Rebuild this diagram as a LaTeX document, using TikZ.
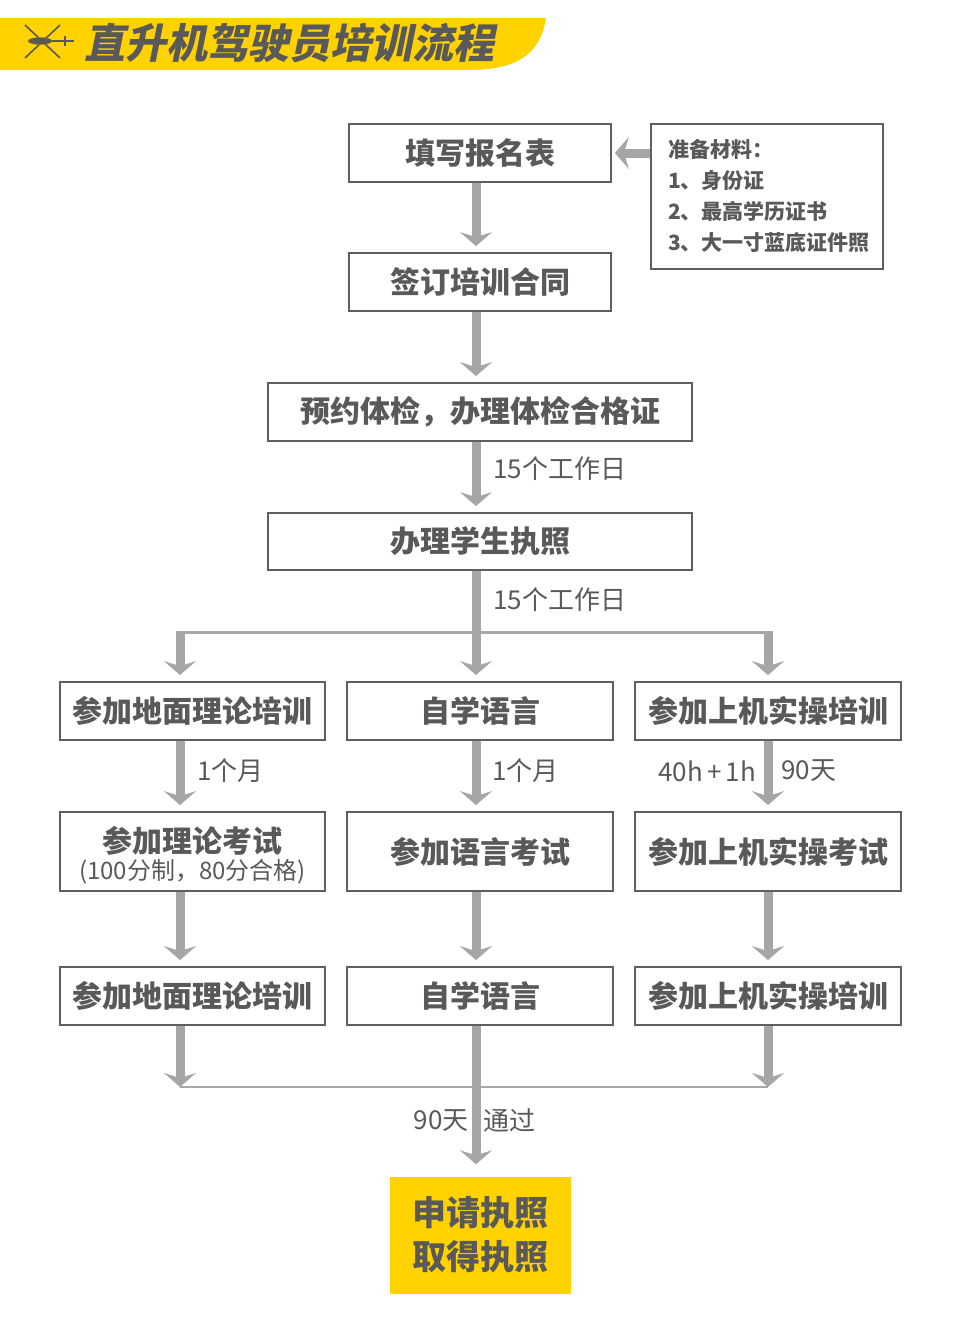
\documentclass[tikz,border=0pt]{standalone}
\usepackage{fontspec}
\setmainfont{Noto Sans CJK SC}
\newfontfamily\titlefont{Noto Sans CJK SC}[FakeSlant=0.2]
\usetikzlibrary{arrows.meta}
\definecolor{hyellow}{HTML}{FFD200}
\definecolor{txtgray}{HTML}{595959}
\definecolor{boxgray}{HTML}{5F5F5F}
\definecolor{arrgray}{HTML}{A6A6A6}
\tikzset{
  stepbox/.style={draw=boxgray, line width=1.8pt, text=txtgray, inner sep=0pt, align=center,
    font=\fontsize{30}{36}\selectfont\bfseries},
  arr/.style={draw=arrgray, line width=9pt, -{Stealth[width=32pt,length=14pt,inset=5pt]}, shorten >=6pt},
  lbl/.style={text=txtgray, inner sep=0pt, font=\fontsize{26}{30}\selectfont},
}
\begin{document}
\begin{tikzpicture}[x=1pt,y=-1pt]
\useasboundingbox (0,0) rectangle (960,1341);
% banner
\fill[hyellow] (0,18) -- (546,18) .. controls (540,56) and (515,70) .. (468,70) -- (0,70) -- cycle;
\draw[txtgray, line width=1.6pt] (25,25) -- (60,58);
\draw[txtgray, line width=1.6pt] (60,25) -- (25,58);
\draw[txtgray, line width=1.4pt] (50,41) -- (74,41);
\draw[txtgray, line width=1.4pt] (65,36) -- (65,46);
\fill[txtgray, draw=hyellow!60!black] (40,41) ellipse (12pt and 3.5pt);
\node[anchor=west, text=txtgray, inner sep=0pt, font=\titlefont\bfseries\fontsize{41}{41}\selectfont] (title) at (84,43) {直升机驾驶员培训流程};

% columns
\coordinate (colL) at (180,0);
\coordinate (colM) at (476,0);
\coordinate (colR) at (768,0);

% main steps
\node[stepbox, minimum width=262pt, minimum height=58pt] (b1) at (480,153) {填写报名表};
\node[draw=boxgray, line width=1.8pt, text=txtgray, inner xsep=17pt, inner ysep=0pt, text width=198pt,
  minimum height=145pt, align=left, font=\fontsize{21}{31}\selectfont\bfseries] (mat) at (767,196.5)
  {准备材料：\\1、身份证\\2、最高学历证书\\3、大一寸蓝底证件照};
\node[stepbox, minimum width=262pt, minimum height=58pt] (b2) at (480,282) {签订培训合同};
\node[stepbox, minimum width=424pt, minimum height=58pt] (b3) at (480,412) {预约体检，办理体检合格证};
\node[stepbox, minimum width=424pt, minimum height=57pt] (b4) at (480,541.5) {办理学生执照};

\draw[arr, shorten >=3pt] (mat.west |- b1) -- (b1.east);
\draw[arr] (b1.south -| colM) -- (b2.north -| colM);
\draw[arr] (b2.south -| colM) -- (b3.north -| colM);
\draw[arr] (b3.south -| colM) -- (b4.north -| colM);
\node[lbl, anchor=west] (d1) at (493,469) {15个工作日};
\node[lbl, anchor=west] (d2) at (493,600) {15个工作日};

% three branches
\node[stepbox, minimum width=265pt, minimum height=58pt] (l1) at (192.5,711) {参加地面理论培训};
\node[stepbox, minimum width=266pt, minimum height=58pt] (m1) at (480,711) {自学语言};
\node[stepbox, minimum width=266pt, minimum height=58pt] (r1) at (768,711) {参加上机实操培训};

\coordinate (barL) at (180,632);
\coordinate (barR) at (768,632);
\draw[arrgray, line width=3pt] ([xshift=-4.5pt]barL) -- ([xshift=4.5pt]barR);
\draw[arr] ([yshift=-1.5pt]barL) -- (l1.north -| colL);
\draw[arr] (b4.south -| colM) -- (m1.north -| colM);
\draw[arr] ([yshift=-1.5pt]barR) -- (r1.north -| colR);

\node[stepbox, minimum width=265pt, minimum height=79pt] (l2) at (192.5,851.5)
  {\rule{0pt}{33pt}参加理论考试\\[-9pt]{\fontsize{24}{27}\selectfont\mdseries (100分制，80分合格)}};
\node[stepbox, minimum width=266pt, minimum height=79pt] (m2) at (480,851.5) {参加语言考试};
\node[stepbox, minimum width=266pt, minimum height=79pt] (r2) at (768,851.5) {参加上机实操考试};

\draw[arr] (l1.south -| colL) -- (l2.north -| colL);
\draw[arr] (m1.south -| colM) -- (m2.north -| colM);
\draw[arr] (r1.south -| colR) -- (r2.north -| colR);
\node[lbl, anchor=west] (t1) at (197,771) {1个月};
\node[lbl, anchor=west] (t2) at (492,771) {1个月};
\node[lbl, anchor=east] (t3) at (756,771) {40h\kern4pt+\kern4pt1h};
\node[lbl, anchor=west] (t4) at (781,771) {90天};

\node[stepbox, minimum width=265pt, minimum height=58pt] (l3) at (192.5,996) {参加地面理论培训};
\node[stepbox, minimum width=266pt, minimum height=58pt] (m3) at (480,996) {自学语言};
\node[stepbox, minimum width=266pt, minimum height=58pt] (r3) at (768,996) {参加上机实操培训};

\draw[arr] (l2.south -| colL) -- (l3.north -| colL);
\draw[arr] (m2.south -| colM) -- (m3.north -| colM);
\draw[arr] (r2.south -| colR) -- (r3.north -| colR);

% join and licence
\node[fill=hyellow, inner sep=0pt, minimum width=181pt, minimum height=117pt, align=center, text=txtgray,
  font=\fontsize{34}{44}\selectfont\bfseries] (fin) at (480.5,1235) {申请执照\\取得执照};

\coordinate (joinL) at (180,1087);
\coordinate (joinR) at (768,1087);
\draw[arrgray, line width=2.5pt] (joinL) -- (joinR);
\draw[arr, shorten >=0pt] (l3.south -| colL) -- (joinL);
\draw[arr, shorten >=0pt] (r3.south -| colR) -- (joinR);
\draw[arr, shorten >=12pt] (m3.south -| colM) -- (fin.north -| colM);
\node[lbl, anchor=east] (p1) at (469,1121) {90天};
\node[lbl, anchor=west] (p2) at (483,1121) {通过};
\end{tikzpicture}
\end{document}
